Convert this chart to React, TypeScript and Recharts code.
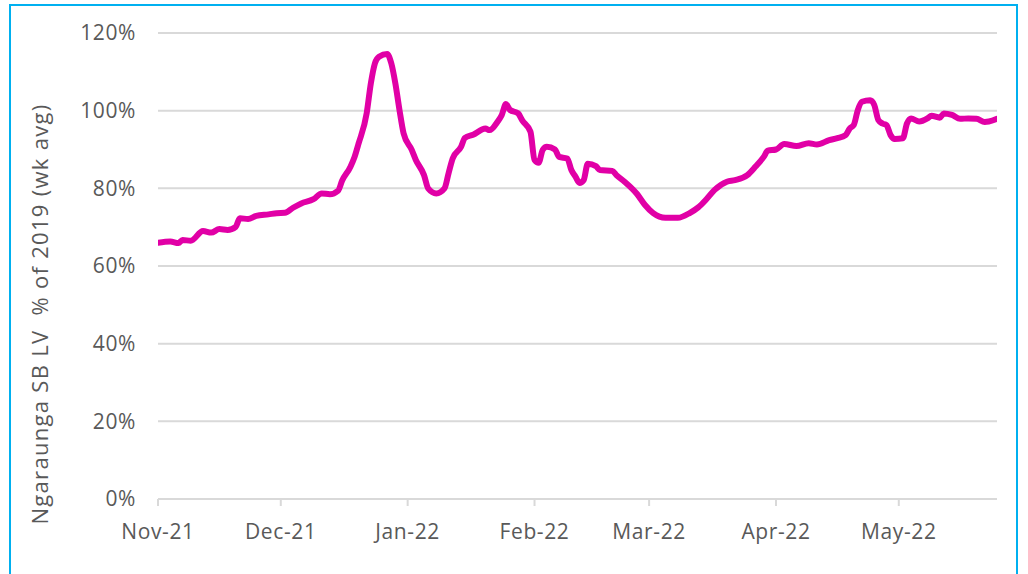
import React from 'react';
import { LineChart, Line, XAxis, YAxis, CartesianGrid } from 'recharts';

// Days since 1 Nov 2021
const days = [
  0, 3, 5, 6, 8, 11, 13, 15, 17, 19, 20, 22, 24, 27, 29, 31, 33, 35, 38, 40,
  42, 44, 45, 47, 48, 49, 51, 52, 53, 54, 56, 57, 58, 59, 60, 62, 63, 65, 66, 68,
  70, 71, 72, 74, 75, 77, 80, 81, 83, 84, 85, 86, 88, 89, 91, 92, 93, 94, 95, 97,
  98, 100, 101, 102, 103, 104, 105, 107, 108, 111, 112, 114, 117, 119, 121, 124, 127, 130, 132, 134,
  136, 139, 141, 144, 146, 148, 149, 151, 153, 156, 159, 161, 164, 166, 168, 169, 170, 171, 172, 174,
  175, 176, 177, 178, 179, 180, 182, 183, 184, 186, 188, 189, 191, 192, 194, 196, 198, 200, 202, 203, 205,
];

// Ngauranga SB LV, % of 2019 (weekly average)
const values = [
  66.0, 66.3, 65.9, 66.7, 66.5, 69.0, 68.6, 69.5, 69.3, 70.1, 72.3, 72.1, 72.9, 73.3, 73.6, 73.7, 75.0, 76.1, 77.2, 78.7,
  78.5, 79.4, 82.0, 85.5, 88.0, 91.5, 99.4, 107.0, 112.2, 113.9, 114.6, 112.2, 107.0, 100.2, 94.2, 89.9, 87.3, 83.4, 80.0, 78.7,
  80.0, 83.9, 87.7, 90.6, 93.0, 93.8, 95.4, 95.0, 97.2, 98.9, 101.7, 100.2, 99.3, 97.5, 94.6, 87.3, 86.6, 89.9, 90.7, 90.0,
  88.1, 87.7, 84.7, 83.0, 81.4, 82.1, 86.3, 85.7, 84.7, 84.5, 83.4, 81.7, 78.6, 75.7, 73.6, 72.4, 72.4, 73.7, 75.1, 77.2,
  79.6, 81.7, 82.1, 83.4, 85.6, 88.1, 89.7, 90.0, 91.4, 90.9, 91.6, 91.3, 92.4, 92.9, 93.7, 95.4, 96.3, 100.2, 102.3, 102.7,
  101.5, 97.6, 96.7, 96.3, 93.7, 92.7, 92.9, 96.7, 98.0, 97.2, 98.0, 98.7, 98.2, 99.3, 98.9, 97.9, 98.0, 97.9, 97.1, 97.2, 97.9,
];

const monthTicks = [0, 30, 61, 92, 120, 151, 181];
const monthLabels = ['Nov-21', 'Dec-21', 'Jan-22', 'Feb-22', 'Mar-22', 'Apr-22', 'May-22'];
const yTicks = [0, 20, 40, 60, 80, 100, 120];

const yLabel = 'Ngaraunga SB LV  % of 2019 (wk avg)';

const data = days.map((d, i) => ({ day: d, value: values[i] }));

const fontFamily = '"Open Sans", sans-serif';
const grey = '#595959';
const gridGrey = '#D9D9D9';

export default function App() {
  return (
    <div
      style={{
        position: 'fixed',
        left: 0,
        top: 0,
        width: 1028,
        height: 574,
        overflow: 'hidden',
        background: '#fff',
      }}
    >
      <div
        style={{
          position: 'absolute',
          left: 9,
          top: 4,
          width: 1009,
          height: 640,
          border: '2px solid #00B0F0',
          boxSizing: 'border-box',
        }}
      />
      <div style={{ position: 'absolute', left: 0, top: 0 }}>
        <LineChart
          width={1028}
          height={574}
          data={data}
          margin={{ top: 33, right: 31, bottom: 35, left: 0 }}
          style={{ fontFamily }}
        >
          <CartesianGrid horizontal vertical={false} stroke={gridGrey} strokeWidth={2} />
          <XAxis
            dataKey="day"
            type="number"
            domain={[0, 205]}
            ticks={monthTicks}
            tickFormatter={(v: number) => monthLabels[monthTicks.indexOf(v)] ?? ''}
            axisLine={{ stroke: gridGrey, strokeWidth: 2 }}
            tickLine={{ stroke: gridGrey, strokeWidth: 2 }}
            tickSize={7}
            tickMargin={18}
            height={40}
            tick={{ fill: grey, fontSize: 21, letterSpacing: 0.6 }}
            interval={0}
            allowDataOverflow
          />
          <YAxis
            type="number"
            domain={[0, 120]}
            ticks={yTicks}
            tickFormatter={(v: number) => `${v}%`}
            axisLine={false}
            tickLine={false}
            tickSize={0}
            tickMargin={22}
            width={158}
            interval={0}
            tick={{ fill: grey, fontSize: 21, letterSpacing: 0.6 }}
            label={{
              content: () => (
                <text
                  x={39}
                  y={314}
                  transform="rotate(-90 39 314)"
                  textAnchor="middle"
                  dominantBaseline="central"
                  fill={grey}
                  fontSize={22}
                  letterSpacing={1.3}
                  style={{ whiteSpace: 'pre', fontFamily }}
                >
                  {yLabel}
                </text>
              ),
            }}
          />
          <Line
            type="monotone"
            dataKey="value"
            stroke="#E100A6"
            strokeWidth={6}
            dot={false}
            isAnimationActive={false}
            strokeLinejoin="round"
            strokeLinecap="round"
          />
        </LineChart>
      </div>
    </div>
  );
}
